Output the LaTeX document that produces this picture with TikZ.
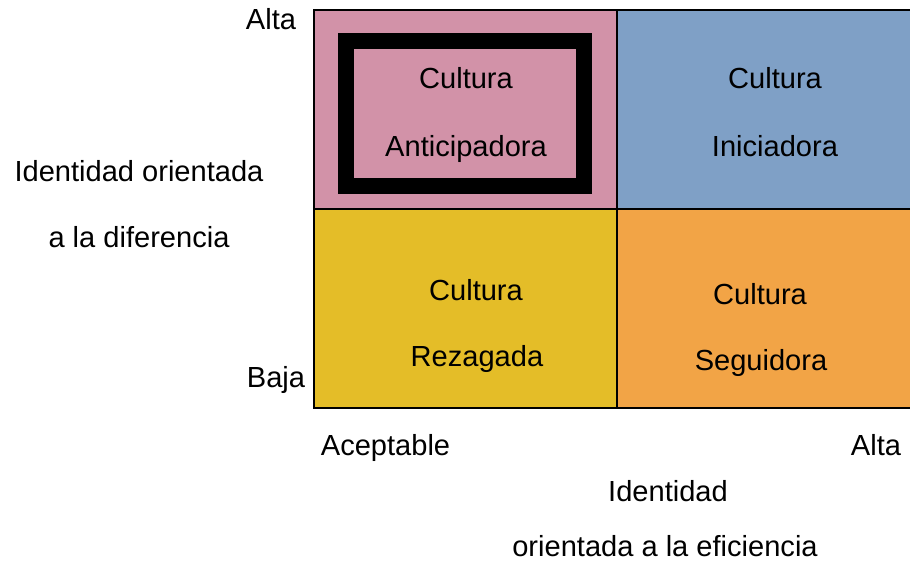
\documentclass[tikz,border=0pt]{standalone}
\usepackage{fontspec}
\setmainfont{Liberation Sans}
\definecolor{cpink}{HTML}{D292A8}
\definecolor{cblue}{HTML}{7FA0C6}
\definecolor{cyellow}{HTML}{E4BD28}
\definecolor{corange}{HTML}{F2A446}
\tikzset{
  cell/.style={draw=black, line width=1.6pt},
  lbl/.style={anchor=base, inner sep=0pt, font=\fontsize{21.8}{24}\selectfont},
}
\begin{document}
\begin{tikzpicture}[x=0.75pt, y=-0.75pt]
\useasboundingbox (0,0) rectangle (910,571);
\clip (0,0) rectangle (910,571);
% cells
\path[cell, fill=cpink]   (314,10)  rectangle (617,209);
\path[cell, fill=cblue]   (617,10)  rectangle (915,209);
\path[cell, fill=cyellow] (314,209) rectangle (617,408);
\path[cell, fill=corange] (617,209) rectangle (915,408);
% thick frame
\draw[line width=12pt] (345.5,41) rectangle (584,185.5);
% cell texts
\node[lbl] (c1a) at (466,88) {Cultura};
\node[lbl] (c1b) at (466,156) {Anticipadora};
\node[lbl] (c2a) at (775,88) {Cultura};
\node[lbl] (c2b) at (775,156) {Iniciadora};
\node[lbl] (c3a) at (476,300) {Cultura};
\node[lbl] (c3b) at (477,366) {Rezagada};
\node[lbl] (c4a) at (760,304) {Cultura};
\node[lbl] (c4b) at (761,370) {Seguidora};
% axis labels
\node[lbl] (yhi) at (271,29) {Alta};
\node[lbl] (ylo) at (276,387) {Baja};
\node[lbl] (ya) at (139,181) {Identidad orientada};
\node[lbl] (yb) at (139,247) {a la diferencia};
\node[lbl] (xlo) at (385.5,455) {Aceptable};
\node[lbl] (xhi) at (876,455) {Alta};
\node[lbl] (xa) at (668,501.5) {Identidad};
\node[lbl] (xb) at (665,556.5) {orientada a la eficiencia};
\end{tikzpicture}
\end{document}
